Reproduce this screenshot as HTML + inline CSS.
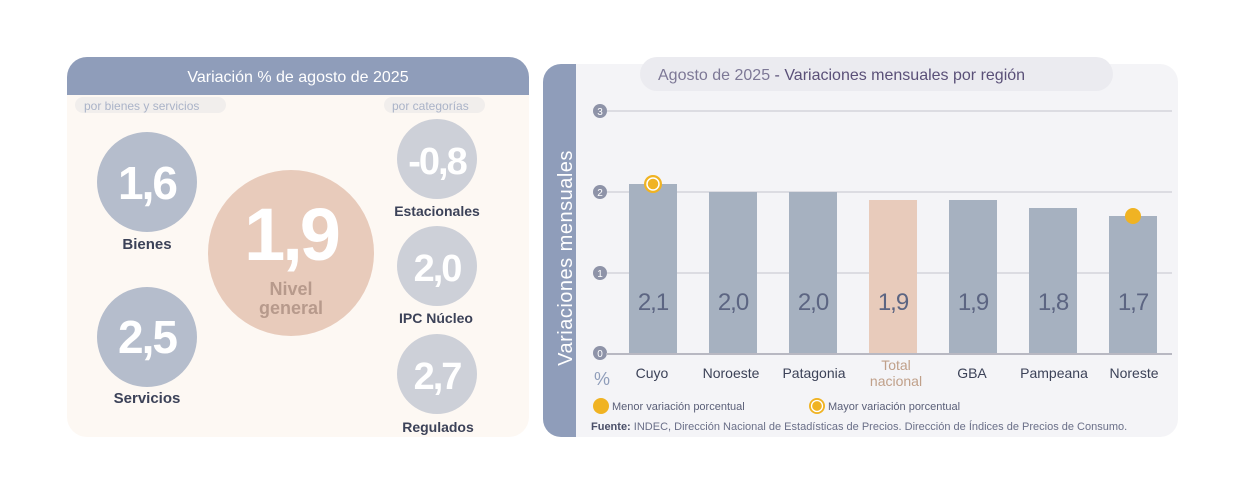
<!DOCTYPE html>
<html><head><meta charset="utf-8"><style>
html,body{margin:0;padding:0;background:#fff;}
svg{display:block;font-family:"Liberation Sans",sans-serif;}
</style></head><body>
<svg width="1236" height="481" viewBox="0 0 1236 481" xmlns="http://www.w3.org/2000/svg">
<!-- LEFT PANEL -->
<rect x="67" y="57" width="462" height="380" rx="20" fill="#fdf8f3"/>
<path d="M67 95 V77 a20 20 0 0 1 20 -20 H509 a20 20 0 0 1 20 20 V95 Z" fill="#8f9dba"/>
<text x="298" y="82" text-anchor="middle" font-size="16" fill="#fff">Variación % de agosto de 2025</text>
<rect x="75" y="97" width="151" height="16" rx="8" fill="#f1eeec"/>
<text x="84" y="110" font-size="12" fill="#aab3c8">por bienes y servicios</text>
<rect x="384" y="97" width="101" height="16" rx="8" fill="#f1eeec"/>
<text x="392" y="110" font-size="12" fill="#aab3c8">por categorías</text>

<circle cx="147" cy="182" r="50" fill="#b5bdcc"/>
<text x="147" y="199" text-anchor="middle" font-size="46" font-weight="bold" fill="#fff" letter-spacing="-2">1,6</text>
<text x="147" y="249" text-anchor="middle" font-size="15" font-weight="bold" fill="#3c4258">Bienes</text>

<circle cx="147" cy="337" r="50" fill="#b5bdcc"/>
<text x="147" y="353" text-anchor="middle" font-size="46" font-weight="bold" fill="#fff" letter-spacing="-2">2,5</text>
<text x="147" y="403" text-anchor="middle" font-size="15" font-weight="bold" fill="#3c4258">Servicios</text>

<circle cx="291" cy="253" r="83" fill="#e8cbbb"/>
<text x="291" y="260" text-anchor="middle" font-size="74" font-weight="bold" fill="#fff" letter-spacing="-3">1,9</text>
<text x="291" y="295" text-anchor="middle" font-size="18" font-weight="bold" fill="#b79a8c">Nivel</text>
<text x="291" y="314" text-anchor="middle" font-size="18" font-weight="bold" fill="#b79a8c">general</text>

<circle cx="437" cy="159" r="40" fill="#cdd0d8"/>
<text x="437" y="174" text-anchor="middle" font-size="38" font-weight="bold" fill="#fff" letter-spacing="-2">-0,8</text>
<text x="437" y="216" text-anchor="middle" font-size="14" font-weight="bold" fill="#3c4258">Estacionales</text>
<circle cx="437" cy="266" r="40" fill="#cdd0d8"/>
<text x="437" y="281" text-anchor="middle" font-size="38" font-weight="bold" fill="#fff" letter-spacing="-2">2,0</text>
<text x="436" y="323" text-anchor="middle" font-size="14" font-weight="bold" fill="#3c4258">IPC Núcleo</text>
<circle cx="437" cy="374" r="40" fill="#cdd0d8"/>
<text x="437" y="389" text-anchor="middle" font-size="38" font-weight="bold" fill="#fff" letter-spacing="-2">2,7</text>
<text x="438" y="432" text-anchor="middle" font-size="14" font-weight="bold" fill="#3c4258">Regulados</text>

<!-- RIGHT PANEL -->
<rect x="543" y="64" width="635" height="373" rx="18" fill="#f4f4f7"/>
<path d="M576 64 H561 a18 18 0 0 0 -18 18 V419 a18 18 0 0 0 18 18 H576 Z" fill="#8f9dba"/>
<text transform="translate(572,258) rotate(-90)" text-anchor="middle" font-size="20" fill="#fff" letter-spacing="0.5">Variaciones  mensuales</text>
<rect x="640" y="57" width="473" height="34" rx="17" fill="#ebebf0"/>
<text x="658" y="80" font-size="16" fill="#7d7896">Agosto de 2025 <tspan fill="#5a5078">- Variaciones mensuales por región</tspan></text>

<g stroke="#c4c4cc" stroke-width="1">
<line x1="600" y1="111" x2="1172" y2="111"/>
<line x1="600" y1="192" x2="1172" y2="192"/>
<line x1="600" y1="273" x2="1172" y2="273"/>
</g>
<g fill="#8e93a8"><circle cx="600" cy="111" r="7"/><circle cx="600" cy="192" r="7"/><circle cx="600" cy="273" r="7"/><circle cx="600" cy="353" r="7"/></g>
<g font-size="10" fill="#fff" text-anchor="middle"><text x="600" y="115">3</text><text x="600" y="196">2</text><text x="600" y="277">1</text><text x="600" y="357">0</text></g>

<g fill="#a6b1c0">
<rect x="629" y="184" width="48" height="169"/>
<rect x="709" y="192" width="48" height="161"/>
<rect x="789" y="192" width="48" height="161"/>
<rect x="949" y="200" width="48" height="153"/>
<rect x="1029" y="208" width="48" height="145"/>
<rect x="1109" y="216" width="48" height="137"/>
</g>
<rect x="869" y="200" width="48" height="153" fill="#e8cbbb"/>
<line x1="606" y1="354" x2="1172" y2="354" stroke="#b8b8c2" stroke-width="2"/>

<g font-size="24" fill="#5c6582" text-anchor="middle" letter-spacing="-1">
<text x="653" y="310">2,1</text><text x="733" y="310">2,0</text><text x="813" y="310">2,0</text>
<text x="893" y="310">1,9</text><text x="973" y="310">1,9</text><text x="1053" y="310">1,8</text><text x="1133" y="310">1,7</text>
</g>
<circle cx="653" cy="184" r="9" fill="#f0b323"/><circle cx="653" cy="184" r="6" fill="none" stroke="#fff" stroke-width="1.5"/>
<circle cx="1133" cy="216" r="8" fill="#f0b323"/>

<g font-size="14" fill="#3c4258" text-anchor="middle">
<text x="652" y="378">Cuyo</text><text x="731" y="378">Noroeste</text><text x="814" y="378">Patagonia</text>
<text x="972" y="378">GBA</text><text x="1054" y="378">Pampeana</text><text x="1134" y="378">Noreste</text>
</g>
<text x="896" y="370" text-anchor="middle" font-size="14" fill="#c0a08a">Total</text>
<text x="896" y="386" text-anchor="middle" font-size="14" fill="#c0a08a">nacional</text>
<text x="602" y="385" text-anchor="middle" font-size="18" fill="#8f9dba">%</text>

<circle cx="601" cy="406" r="8" fill="#f0b323"/>
<text x="612" y="410" font-size="11" fill="#5a5f78">Menor variación porcentual</text>
<circle cx="817" cy="406" r="8" fill="#f0b323"/><circle cx="817" cy="406" r="5.5" fill="none" stroke="#fff" stroke-width="1.3"/>
<text x="828" y="410" font-size="11" fill="#5a5f78">Mayor variación porcentual</text>
<text x="591" y="430" font-size="11" fill="#6a6f88"><tspan font-weight="bold" fill="#4a4f68">Fuente:</tspan> INDEC, Dirección Nacional de Estadísticas de Precios. Dirección de Índices de Precios de Consumo.</text>
</svg>
</body></html>
